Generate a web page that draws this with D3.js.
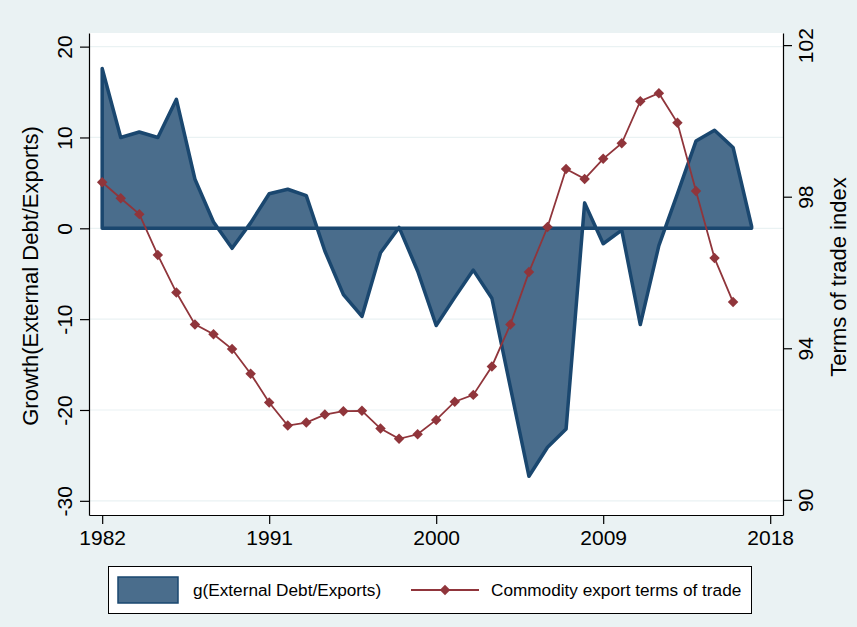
<!DOCTYPE html>
<html>
<head>
<meta charset="utf-8">
<script src="https://cdn.jsdelivr.net/npm/d3@7"></script>
<style>
  html, body { margin: 0; padding: 0; background: #fff; }
  svg { display: block; font-family: "Liberation Sans", Arial, sans-serif; }
</style>
</head>
<body>
<div class="svg-container"></div>
<script>
const years = [1982, 1983, 1984, 1985, 1986, 1987, 1988, 1989, 1990, 1991, 1992, 1993,
  1994, 1995, 1996, 1997, 1998, 1999, 2000, 2001, 2002, 2003, 2004, 2005,
  2006, 2007, 2008, 2009, 2010, 2011, 2012, 2013, 2014, 2015, 2016, 2017]

// g(External Debt/Exports), left axis
const debtGrowth = [17.6, 10.0, 10.6, 10.0, 14.2, 5.4, 0.7, -2.2, 0.6, 3.8, 4.3, 3.6,
  -2.5, -7.3, -9.7, -2.7, 0.1, -4.7, -10.7, -7.6, -4.6, -7.7, -17.5, -27.3,
  -24.1, -22.1, 2.8, -1.7, -0.2, -10.6, -1.9, 3.8, 9.6, 10.8, 8.9, 0.2]

// commodity export terms of trade, right axis (1982-2016)
const totYears = years.slice(0, 35)
const termsOfTrade = [98.38, 97.96, 97.54, 96.46, 95.47, 94.63, 94.37, 93.98, 93.33, 92.57,
  91.96, 92.04, 92.25, 92.34, 92.35, 91.88, 91.61, 91.73, 92.11, 92.59,
  92.77, 93.52, 94.63, 96.01, 97.2, 98.73, 98.47, 99.0, 99.41, 100.52,
  100.73, 99.95, 98.15, 96.38, 95.22]

const leftTicks = [-30, -20, -10, 0, 10, 20]
const rightTicks = [90, 94, 98, 102]
const xTicks = [1982, 1991, 2000, 2009, 2018]

const leftTitle = 'Growth(External Debt/Exports)'
const rightTitle = 'Terms of trade index'
const legendLabels = ['g(External Debt/Exports)', 'Commodity export terms of trade']

const width = 857
const height = 627
const plot = { left: 89, right: 783, top: 33, bottom: 515 }

const bg = '#eaf2f3'
const navy = '#1a476f'
const areaFill = '#4a6d8c'
const maroon = '#90353b'

const svg = d3.select('.svg-container')
  .append('svg')
  .attr('width', width)
  .attr('height', height)

svg.append('rect')
  .attr('x', 0).attr('y', 0)
  .attr('width', width).attr('height', height)
  .attr('fill', bg)

svg.append('rect')
  .attr('x', plot.left).attr('y', plot.top)
  .attr('width', plot.right - plot.left)
  .attr('height', plot.bottom - plot.top)
  .attr('fill', '#fff')

const xScale = d3.scaleLinear([1981.29, 2018.69], [plot.left, plot.right])
const yLeft = d3.scaleLinear([-31.56, 21.5], [plot.bottom, plot.top])
const yRight = d3.scaleLinear([89.6, 102.32], [plot.bottom, plot.top])

// gridlines
svg.append('g')
  .selectAll('line')
  .data(leftTicks)
  .join('line')
  .attr('x1', plot.left).attr('x2', plot.right)
  .attr('y1', d => yLeft(d)).attr('y2', d => yLeft(d))
  .attr('stroke', bg)
  .attr('stroke-width', 1.2)

// area
const debtData = years.map((year, i) => ({ year, value: debtGrowth[i] }))

const area = d3.area()
  .x(d => xScale(d.year))
  .y0(yLeft(0))
  .y1(d => yLeft(d.value))

svg.append('path')
  .datum(debtData)
  .attr('d', area)
  .attr('fill', areaFill)
  .attr('stroke', navy)
  .attr('stroke-width', 3.5)
  .attr('stroke-linejoin', 'round')

// terms of trade line
const totData = totYears.map((year, i) => ({ year, value: termsOfTrade[i] }))

const line = d3.line()
  .x(d => xScale(d.year))
  .y(d => yRight(d.value))

svg.append('path')
  .datum(totData)
  .attr('d', line)
  .attr('fill', 'none')
  .attr('stroke', maroon)
  .attr('stroke-width', 1.8)

const diamond = d3.symbol(d3.symbolDiamond2, 70)

svg.append('g')
  .selectAll('path')
  .data(totData)
  .join('path')
  .attr('d', diamond)
  .attr('transform', d => `translate(${xScale(d.year)},${yRight(d.value)})`)
  .attr('fill', maroon)

// axes
const styleAxis = g => {
  g.select('.domain').attr('stroke', '#000').attr('stroke-width', 1.2)
  g.selectAll('.tick line').attr('stroke', '#000').attr('stroke-width', 1.2)
  g.selectAll('.tick text')
    .attr('fill', '#000')
    .style('font-size', '21px')
    .style('font-family', '"Liberation Sans", Arial, sans-serif')
}

// plain hyphen for negatives, like the original
const plain = d => String(d)

const xAxis = d3.axisBottom(xScale)
  .tickValues(xTicks)
  .tickFormat(plain)
  .tickSize(9)
  .tickSizeOuter(0)

svg.append('g')
  .attr('transform', `translate(0, ${plot.bottom})`)
  .call(xAxis)
  .call(styleAxis)
  .call(g => g.selectAll('.tick text').attr('y', 29.5).attr('dy', 0))

const yAxisLeft = d3.axisLeft(yLeft)
  .tickValues(leftTicks)
  .tickFormat(plain)
  .tickSize(9)
  .tickSizeOuter(0)

svg.append('g')
  .attr('transform', `translate(${plot.left}, 0)`)
  .call(yAxisLeft)
  .call(styleAxis)
  .call(g => g.selectAll('.tick text')
    .attr('transform', 'rotate(-90)')
    .attr('text-anchor', 'middle')
    .attr('x', 0).attr('y', -17.5).attr('dy', 0))

const yAxisRight = d3.axisRight(yRight)
  .tickValues(rightTicks)
  .tickFormat(plain)
  .tickSize(9)
  .tickSizeOuter(0)

svg.append('g')
  .attr('transform', `translate(${plot.right}, 0)`)
  .call(yAxisRight)
  .call(styleAxis)
  .call(g => g.selectAll('.tick text')
    .attr('transform', 'rotate(-90)')
    .attr('text-anchor', 'middle')
    .attr('x', 0).attr('y', 29.5).attr('dy', 0))

// axis titles
const midY = (plot.top + plot.bottom) / 2

svg.append('text')
  .attr('transform', `translate(38, ${midY + 2}) rotate(-90)`)
  .attr('text-anchor', 'middle')
  .style('font-size', '22px')
  .text(leftTitle)

svg.append('text')
  .attr('transform', `translate(846, ${midY + 3}) rotate(-90)`)
  .attr('text-anchor', 'middle')
  .style('font-size', '22px')
  .text(rightTitle)

// legend
const legend = svg.append('g')

legend.append('rect')
  .attr('x', 108.5).attr('y', 566.5)
  .attr('width', 643).attr('height', 47)
  .attr('fill', '#fff')
  .attr('stroke', '#000')
  .attr('stroke-width', 1)

legend.append('rect')
  .attr('x', 118).attr('y', 577)
  .attr('width', 60).attr('height', 26)
  .attr('fill', areaFill)
  .attr('stroke', navy)
  .attr('stroke-width', 1.5)

legend.append('text')
  .attr('x', 193).attr('y', 596)
  .style('font-size', '17.2px')
  .text(legendLabels[0])

legend.append('line')
  .attr('x1', 411).attr('x2', 479)
  .attr('y1', 590).attr('y2', 590)
  .attr('stroke', maroon)
  .attr('stroke-width', 1.8)

legend.append('path')
  .attr('d', diamond)
  .attr('transform', 'translate(445, 590)')
  .attr('fill', maroon)

legend.append('text')
  .attr('x', 491).attr('y', 596)
  .style('font-size', '17.2px')
  .text(legendLabels[1])
</script>
</body>
</html>
